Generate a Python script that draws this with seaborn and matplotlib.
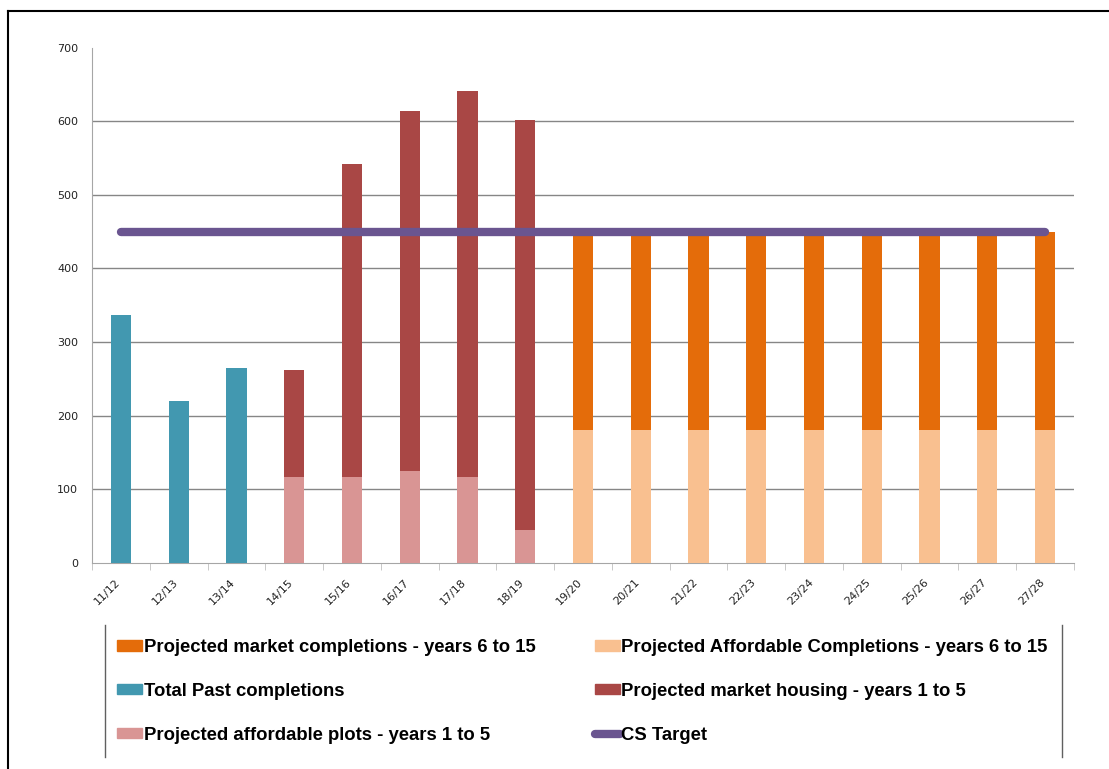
import numpy as np
import pandas as pd
import matplotlib
matplotlib.use("Agg")
import matplotlib.pyplot as plt
import matplotlib.transforms as mtransforms
import seaborn as sns
from matplotlib.lines import Line2D
from matplotlib.patches import Patch


years = ["11/12", "12/13", "13/14", "14/15", "15/16", "16/17", "17/18", "18/19",
         "19/20", "20/21", "21/22", "22/23", "23/24", "24/25", "25/26", "26/27", "27/28"]
past = [337, 220, 265, 0, 0, 0, 0, 0, 0, 0, 0, 0, 0, 0, 0, 0, 0]
afford_1_5 = [0, 0, 0, 117, 117, 125, 117, 45, 0, 0, 0, 0, 0, 0, 0, 0, 0]
market_1_5 = [0, 0, 0, 145, 425, 489, 524, 557, 0, 0, 0, 0, 0, 0, 0, 0, 0]
afford_6_15 = [0, 0, 0, 0, 0, 0, 0, 0, 180, 180, 180, 180, 180, 180, 180, 180, 180]
market_6_15 = [0, 0, 0, 0, 0, 0, 0, 0, 270, 270, 270, 270, 270, 270, 270, 270, 270]
cs_target = [450] * 17

colors = {
    "market_6_15": "#E46C0A",
    "afford_6_15": "#F9C090",
    "past": "#4298B0",
    "market_1_5": "#A94745",
    "afford_1_5": "#D99594",
    "target": "#6A5590",
}

df = pd.DataFrame({
    "Year": years,
    "past": past,
    "afford_1_5": afford_1_5,
    "market_1_5": market_1_5,
    "afford_6_15": afford_6_15,
    "market_6_15": market_6_15,
})
# stacked tops (drawn first, lower segments drawn over them)
df["top_1_5"] = df["afford_1_5"] + df["market_1_5"]
df["top_6_15"] = df["afford_6_15"] + df["market_6_15"]

fig = plt.figure(figsize=(11.09, 7.69), dpi=100)
ax = fig.add_axes([0.083, 0.268, 0.8854, 0.67])

bw = 0.35
for col, c in [("top_1_5", colors["market_1_5"]), ("top_6_15", colors["market_6_15"]),
               ("afford_1_5", colors["afford_1_5"]), ("afford_6_15", colors["afford_6_15"]),
               ("past", colors["past"])]:
    sns.barplot(data=df, x="Year", y=col, order=years, color=c, width=bw,
                saturation=1, ax=ax, zorder=3)

pos = np.arange(len(years))
ax.plot(pos, cs_target, color=colors["target"], lw=6, solid_capstyle="round", zorder=4)

ax.set_xlim(-0.5, len(years) - 0.5)
ax.set_ylim(0, 700)
ax.set_yticks(range(0, 701, 100))
ax.set_xlabel("")
ax.set_ylabel("")
for y in range(100, 700, 100):
    ax.axhline(y, color="#868686", lw=1, zorder=1)

for s in ["top", "right"]:
    ax.spines[s].set_visible(False)
ax.spines["left"].set_color("#A6A6A6")
ax.spines["bottom"].set_color("#A6A6A6")
ax.tick_params(axis="y", length=0, labelsize=8, pad=10, labelcolor="#222222")
ax.tick_params(axis="x", which="major", length=0, labelsize=8, pad=10, labelcolor="#222222")
ax.set_xticks(np.arange(-0.5, len(years), 1), minor=True)
ax.tick_params(axis="x", which="minor", length=5, color="#BFBFBF")
shift = mtransforms.ScaledTranslation(-0.06, 0, fig.dpi_scale_trans)
for lab in ax.get_xticklabels():
    lab.set_rotation(45)
    lab.set_ha("right")
    lab.set_va("top")
    lab.set_rotation_mode("anchor")
    lab.set_transform(lab.get_transform() + shift)

handles = [
    Patch(color=colors["market_6_15"]),
    Patch(color=colors["past"]),
    Patch(color=colors["afford_1_5"]),
    Patch(color=colors["afford_6_15"]),
    Patch(color=colors["market_1_5"]),
    Line2D([], [], color=colors["target"], lw=6, solid_capstyle="round"),
]
labels = [
    "Projected market completions - years 6 to 15",
    "Total Past completions",
    "Projected affordable plots - years 1 to 5",
    "Projected Affordable Completions - years 6 to 15",
    "Projected market housing - years 1 to 5",
    "CS Target",
]
fig.legend(handles, labels, ncol=2, frameon=False, loc="upper left",
           bbox_to_anchor=(117 / 1109, 1 - 639 / 769), borderaxespad=0, borderpad=0,
           prop={"family": "Liberation Sans", "weight": "bold", "size": 13.3},
           handlelength=1.35, handleheight=0.5, handletextpad=0.1,
           labelspacing=1.45, columnspacing=3.2)

# legend box side lines
for x in [105, 1062]:
    fig.add_artist(Line2D([x / 1109, x / 1109], [1 - 625 / 769, 1 - 757 / 769],
                          color="#606060", lw=1))
# outer frame (top and left)
fig.add_artist(Line2D([8 / 1109, 1], [1 - 11 / 769, 1 - 11 / 769], color="black", lw=1.5))
fig.add_artist(Line2D([8 / 1109, 8 / 1109], [1 - 11 / 769, 0], color="black", lw=1.5))

fig.savefig("out.png", dpi=100)
